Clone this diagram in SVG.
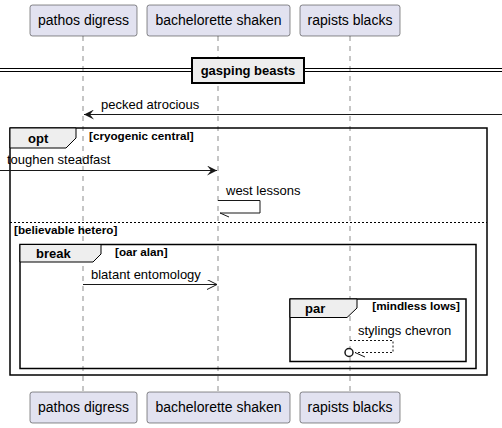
<svg xmlns="http://www.w3.org/2000/svg" width="502" height="428" viewBox="0 0 502 428">
<style>
.part rect{fill:#E2E2F0;stroke:#181818;stroke-width:0.5}
.pt{font-family:"Liberation Sans",Arial,sans-serif;font-size:14px;fill:#000}
.msg{font-family:"Liberation Sans",Arial,sans-serif;font-size:13px;fill:#000}
.fl{font-family:"Liberation Sans",Arial,sans-serif;font-size:13px;font-weight:bold;fill:#000}
.gd{font-family:"Liberation Sans",Arial,sans-serif;font-size:11.7px;font-weight:bold;fill:#000}
.life{stroke:#181818;stroke-width:0.5;stroke-dasharray:5,5}
.frame{fill:none;stroke:#000;stroke-width:1.5}
.tab{fill:#EEEEEE;stroke:#000;stroke-width:1}
.ln{stroke:#181818;stroke-width:1;fill:none}
</style>
<defs>
<marker id="fill" markerWidth="12" markerHeight="10" refX="10" refY="5" orient="auto" markerUnits="userSpaceOnUse">
<path d="M0,0 L10,5 L0,10 L4,5 Z" fill="#181818"/>
</marker>
<marker id="open" markerWidth="12" markerHeight="10" refX="10" refY="5" orient="auto" markerUnits="userSpaceOnUse">
<path d="M0,0 L10,5 L0,10" fill="none" stroke="#181818"/>
</marker>
</defs>
<g id="lifelines">
<line class="life" x1="83" y1="36" x2="83" y2="392"/>
<line class="life" x1="218" y1="36" x2="218" y2="392"/>
<line class="life" x1="350" y1="36" x2="350" y2="392"/>
</g>
<g id="p1" class="part">
<rect x="30" y="5" width="107" height="31" rx="2.5"/>
<text class="pt" x="83.5" y="25" text-anchor="middle">pathos digress</text>
<rect x="30" y="392" width="107" height="31" rx="2.5"/>
<text class="pt" x="83.5" y="412" text-anchor="middle">pathos digress</text>
</g>
<g id="p2" class="part">
<rect x="147" y="5" width="143" height="31" rx="2.5"/>
<text class="pt" x="218.5" y="25" text-anchor="middle">bachelorette shaken</text>
<rect x="147" y="392" width="143" height="31" rx="2.5"/>
<text class="pt" x="218.5" y="412" text-anchor="middle">bachelorette shaken</text>
</g>
<g id="p3" class="part">
<rect x="300" y="5" width="100" height="31" rx="2.5"/>
<text class="pt" x="350" y="25" text-anchor="middle">rapists blacks</text>
<rect x="300" y="392" width="100" height="31" rx="2.5"/>
<text class="pt" x="350" y="412" text-anchor="middle">rapists blacks</text>
</g>
<g id="divider">
<line x1="0" y1="68.5" x2="502" y2="68.5" stroke="#000" stroke-width="1"/>
<line x1="0" y1="71.5" x2="502" y2="71.5" stroke="#000" stroke-width="1"/>
<rect x="192" y="58" width="112" height="25" fill="#EEEEEE" stroke="#000" stroke-width="2"/>
<text class="fl" x="248" y="75" text-anchor="middle">gasping beasts</text>
</g>
<g id="opt">
<rect class="frame" x="10" y="128" width="477" height="247"/>
<path class="tab" d="M10,128 L76,128 L76,138 L66,148 L10,148 Z"/>
<text class="fl" x="28" y="143">opt</text>
<text class="gd" x="89" y="140">[cryogenic central]</text>
<line x1="10" y1="222.5" x2="487" y2="222.5" stroke="#000" stroke-width="1" stroke-dasharray="2,2"/>
<text class="gd" x="14" y="234">[believable hetero]</text>
</g>
<g id="break">
<rect class="frame" x="20" y="244.5" width="456" height="124"/>
<path class="tab" d="M20,244.5 L101,244.5 L101,254 L93,262 L20,262 Z"/>
<text class="fl" x="36" y="258">break</text>
<text class="gd" x="115" y="256">[oar alan]</text>
</g>
<g id="par">
<rect class="frame" x="290" y="299" width="176" height="62.5"/>
<path class="tab" d="M290,299 L357,299 L357,308 L347,317.5 L290,317.5 Z"/>
<text class="fl" x="305" y="313">par</text>
<text class="gd" x="460" y="310" text-anchor="end">[mindless lows]</text>
</g>
<g id="connectors">
<line class="ln" x1="502" y1="114.5" x2="84" y2="114.5" marker-end="url(#fill)"/>
<text class="msg" x="101" y="109">pecked atrocious</text>
<line class="ln" x1="0" y1="170.5" x2="217" y2="170.5" marker-end="url(#fill)"/>
<text class="msg" x="7" y="164">toughen steadfast</text>
<path class="ln" d="M218,200.5 L260,200.5 L260,213 L220,213"/>
<line class="ln" x1="220" y1="213" x2="229" y2="217"/>
<text class="msg" x="226" y="195">west lessons</text>
<line class="ln" x1="83" y1="284.5" x2="217" y2="284.5" marker-end="url(#open)"/>
<text class="msg" x="91" y="279">blatant entomology</text>
<path class="ln" d="M350,340.5 L393,340.5 L393,352.5 L355,352.5" stroke-dasharray="2,2"/>
<circle cx="349" cy="352.5" r="4" fill="#fff" stroke="#181818" stroke-width="1.5"/>
<line class="ln" x1="355" y1="352.5" x2="365" y2="357"/>
<text class="msg" x="358" y="335">stylings chevron</text>
</g>
</svg>
